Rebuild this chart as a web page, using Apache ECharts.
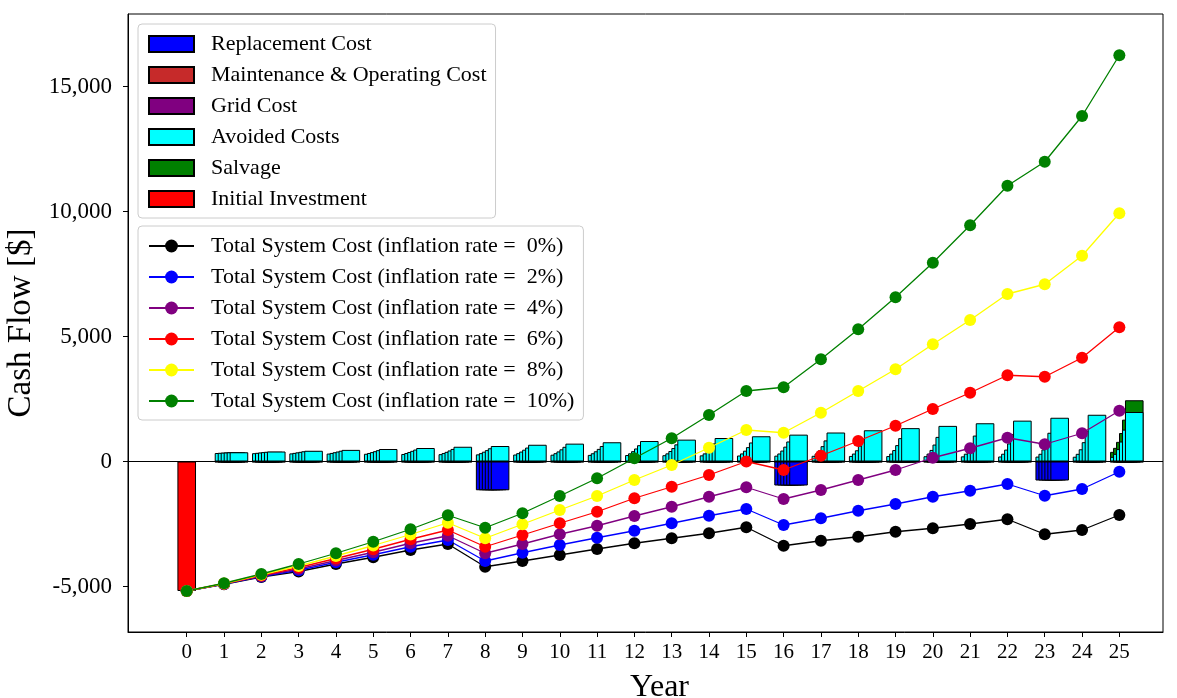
<!DOCTYPE html>
<html>
<head>
<meta charset="utf-8">
<title>Cash Flow</title>
<script src="https://cdn.jsdelivr.net/npm/echarts@6/dist/echarts.min.js"></script>
<style>
  html, body { margin: 0; padding: 0; background: #fff; }
  #chart { width: 1177px; height: 698px; }
</style>
</head>
<body>
<div id="chart"></div>
<script>
// years on the x axis
const years = [0,1,2,3,4,5,6,7,8,9,10,11,12,13,14,15,16,17,18,19,20,21,22,23,24,25];
const barYears = [1,2,3,4,5,6,7,8,9,10,11,12,13,14,15,16,17,18,19,20,21,22,23,24,25];
const xTicks = years;
const yTicks = [-5000, 0, 5000, 10000, 15000];
const rateLabels = ['0%', '2%', '4%', '6%', '8%', '10%'];

// initial investment (year 0)
const initialInvestment = -5180;

// avoided costs per inflation rate, years 1..25
const avoided0  = [340,333,325,317,309,301,294,286,279,272,265,259,252,246,240,234,228,222,217,211,206,201,196,191,186];
const avoided2  = [349,347,345,343,341,339,337,335,334,332,330,328,326,325,323,321,319,318,316,314,312,311,309,307,306];
const avoided4  = [356,361,366,371,376,381,386,392,397,403,409,414,420,426,432,438,444,450,457,463,469,476,483,489,496];
const avoided6  = [362,375,387,400,413,427,442,456,472,487,504,521,538,556,575,594,614,634,656,678,700,724,748,773,799];
const avoided8  = [369,389,409,431,454,478,503,530,558,588,619,652,686,723,761,801,844,888,935,985,1037,1092,1150,1211,1275];
const avoided10 = [370,400,430,465,500,540,590,620,670,715,770,820,875,940,1010,1075,1160,1250,1335,1425,1530,1635,1750,1870,1980];
const avoidedByRate = [avoided0, avoided2, avoided4, avoided6, avoided8, avoided10];

// salvage at year 25, per inflation rate
const salvageYear = 25;
const salvageByRate = [200, 240, 290, 340, 400, 470];

// replacement cost (same for every rate)
const replacementYears = [8, 16, 23];
const replacementCost = [-1150, -960, -760];

// small yearly costs
const maintenanceCost = [-15,-15,-15,-15,-15,-15,-15,-15,-15,-15,-15,-15,-15,-15,-15,-15,-15,-15,-15,-15,-15,-15,-15,-15,-15];
const gridCost        = [-10,-10,-10,-10,-10,-10,-10,-10,-10,-10,-10,-10,-10,-10,-10,-10,-10,-10,-10,-10,-10,-10,-10,-10,-10];

// total system cost (cumulative), years 0..25
const total0  = [-5180,-4910,-4620,-4400,-4100,-3830,-3540,-3300,-4210,-3980,-3740,-3500,-3270,-3070,-2870,-2630,-3370,-3170,-3010,-2810,-2670,-2500,-2310,-2910,-2740,-2140];
const total2  = [-5180,-4900,-4600,-4350,-4030,-3730,-3410,-3140,-3980,-3650,-3340,-3050,-2770,-2470,-2170,-1900,-2540,-2270,-1970,-1700,-1410,-1170,-900,-1370,-1100,-410];
const total4  = [-5180,-4890,-4580,-4300,-3960,-3630,-3270,-2970,-3670,-3300,-2910,-2570,-2180,-1810,-1410,-1030,-1500,-1140,-740,-340,150,530,950,690,1130,2030];
const total6  = [-5180,-4890,-4560,-4240,-3880,-3510,-3110,-2740,-3410,-2940,-2470,-2010,-1470,-1010,-540,0,-340,230,820,1430,2100,2750,3450,3390,4150,5370];
const total8  = [-5180,-4880,-4530,-4180,-3780,-3360,-2920,-2450,-3070,-2510,-1940,-1380,-740,-140,550,1260,1150,1950,2820,3690,4690,5660,6700,7090,8230,9930];
const total10 = [-5180,-4870,-4500,-4100,-3670,-3210,-2710,-2150,-2650,-2070,-1380,-670,130,930,1860,2820,2970,4090,5290,6570,7950,9450,11030,11990,13820,16250];
const totalByRate = [total0, total2, total4, total6, total8, total10];

const lineColors = ['#000000', '#0000ff', '#800080', '#ff0000', '#ffff00', '#008000'];

const FONT = "'Liberation Serif', 'Times New Roman', serif";
const BAR_STEP = 0.08;   // shift of each rate's bar inside a year
const BAR_W = 18.6;

let chart = echarts.init(document.getElementById('chart'));

let series = [];

// initial investment bar, with the zero line
series.push({
  name: 'Initial Investment',
  type: 'bar',
  barWidth: BAR_W,
  barGap: '-100%',
  itemStyle: { color: '#ff0000', borderColor: '#000', borderWidth: 1 },
  data: [[0, initialInvestment]],
  markLine: {
    silent: true,
    symbol: 'none',
    label: { show: false },
    lineStyle: { color: '#000', width: 1, type: 'solid' },
    data: [{ yAxis: 0 }]
  }
});

function barSeries(name, color, data) {
  return {
    name: name,
    type: 'bar',
    barWidth: BAR_W,
    barGap: '-100%',
    itemStyle: { color: color, borderColor: '#000', borderWidth: 1 },
    data: data
  };
}

// one group of bars per rate, later rates drawn over earlier ones
rateLabels.forEach(function (r, i) {
  let xs = barYears.map(function (y) { return y + i * BAR_STEP; });
  // salvage sits on top of avoided costs: draw the sum first, avoided over it
  series.push(barSeries('Salvage', '#008000',
    xs.map(function (x, j) {
      return barYears[j] === salvageYear ? [x, avoidedByRate[i][j] + salvageByRate[i]] : [x, '-'];
    })));
  series.push(barSeries('Avoided Costs', '#00ffff',
    xs.map(function (x, j) { return [x, avoidedByRate[i][j]]; })));
  series.push(barSeries('Maintenance & Operating Cost', '#c62a2a',
    xs.map(function (x, j) { return [x, maintenanceCost[j] + gridCost[j]]; })));
  series.push(barSeries('Grid Cost', '#800080',
    xs.map(function (x, j) { return [x, gridCost[j]]; })));
  series.push(barSeries('Replacement Cost', '#0000ff',
    xs.map(function (x, j) {
      let k = replacementYears.indexOf(barYears[j]);
      return k >= 0 ? [x, replacementCost[k]] : [x, '-'];
    })));
});

let lineNames = [];
rateLabels.forEach(function (r, i) {
  let name = 'Total System Cost (inflation rate =  ' + r + ')';
  lineNames.push(name);
  series.push({
    name: name,
    type: 'line',
    z: 5,
    symbol: 'circle',
    symbolSize: 12,
    color: lineColors[i],
    lineStyle: { color: lineColors[i], width: 1.3 },
    itemStyle: { color: lineColors[i] },
    data: years.map(function (y, j) { return [y, totalByRate[i][j]]; })
  });
});

let legendCommon = {
  orient: 'vertical',
  left: 138,
  backgroundColor: '#fff',
  borderColor: '#cccccc',
  borderWidth: 1,
  borderRadius: 4,
  padding: [9, 9, 8, 10],
  itemWidth: 45,
  itemHeight: 16,
  itemGap: 9,
  selectedMode: false,
  textStyle: { fontFamily: FONT, fontSize: 22, color: '#000', lineHeight: 22, padding: [0, 0, 0, 12] }
};

let option = {
  animation: false,
  backgroundColor: '#fff',
  textStyle: { fontFamily: FONT },
  grid: {
    left: 128, top: 14, right: 14, bottom: 66,
    outerBoundsMode: 'none',
    containLabel: false,
    show: true, borderColor: '#000', borderWidth: 1, backgroundColor: 'transparent'
  },
  legend: [
    Object.assign({}, legendCommon, {
      top: 24,
      icon: 'rect',
      data: ['Replacement Cost', 'Maintenance & Operating Cost', 'Grid Cost', 'Avoided Costs', 'Salvage', 'Initial Investment']
    }),
    Object.assign({}, legendCommon, {
      top: 226,
      data: lineNames
    })
  ],
  xAxis: {
    type: 'value',
    min: -1.574,
    max: 26.17,
    name: 'Year',
    nameLocation: 'middle',
    nameGap: 40,
    nameTextStyle: { fontFamily: FONT, fontSize: 32, color: '#000', padding: [0, 0, 0, 28] },
    axisLine: { show: true, onZero: false, lineStyle: { color: '#000', width: 1 } },
    axisTick: { show: true, inside: false, length: 5, lineStyle: { color: '#000' }, customValues: xTicks },
    axisLabel: { customValues: xTicks, fontFamily: FONT, fontSize: 21, color: '#000', margin: 10 },
    splitLine: { show: false }
  },
  yAxis: {
    type: 'value',
    min: -6820,
    max: 17900,
    name: 'Cash Flow [$]',
    nameLocation: 'middle',
    nameGap: 78,
    nameTextStyle: { fontFamily: FONT, fontSize: 33, color: '#000' },
    axisLine: { show: true, onZero: false, lineStyle: { color: '#000', width: 1 } },
    axisTick: { show: true, inside: false, length: 5, lineStyle: { color: '#000' }, customValues: yTicks },
    axisLabel: {
      customValues: yTicks, fontFamily: FONT, fontSize: 23, color: '#000', margin: 16,
      formatter: function (v) { return v.toLocaleString('en-US'); }
    },
    splitLine: { show: false }
  },
  series: series
};

chart.setOption(option);
</script>
</body>
</html>
